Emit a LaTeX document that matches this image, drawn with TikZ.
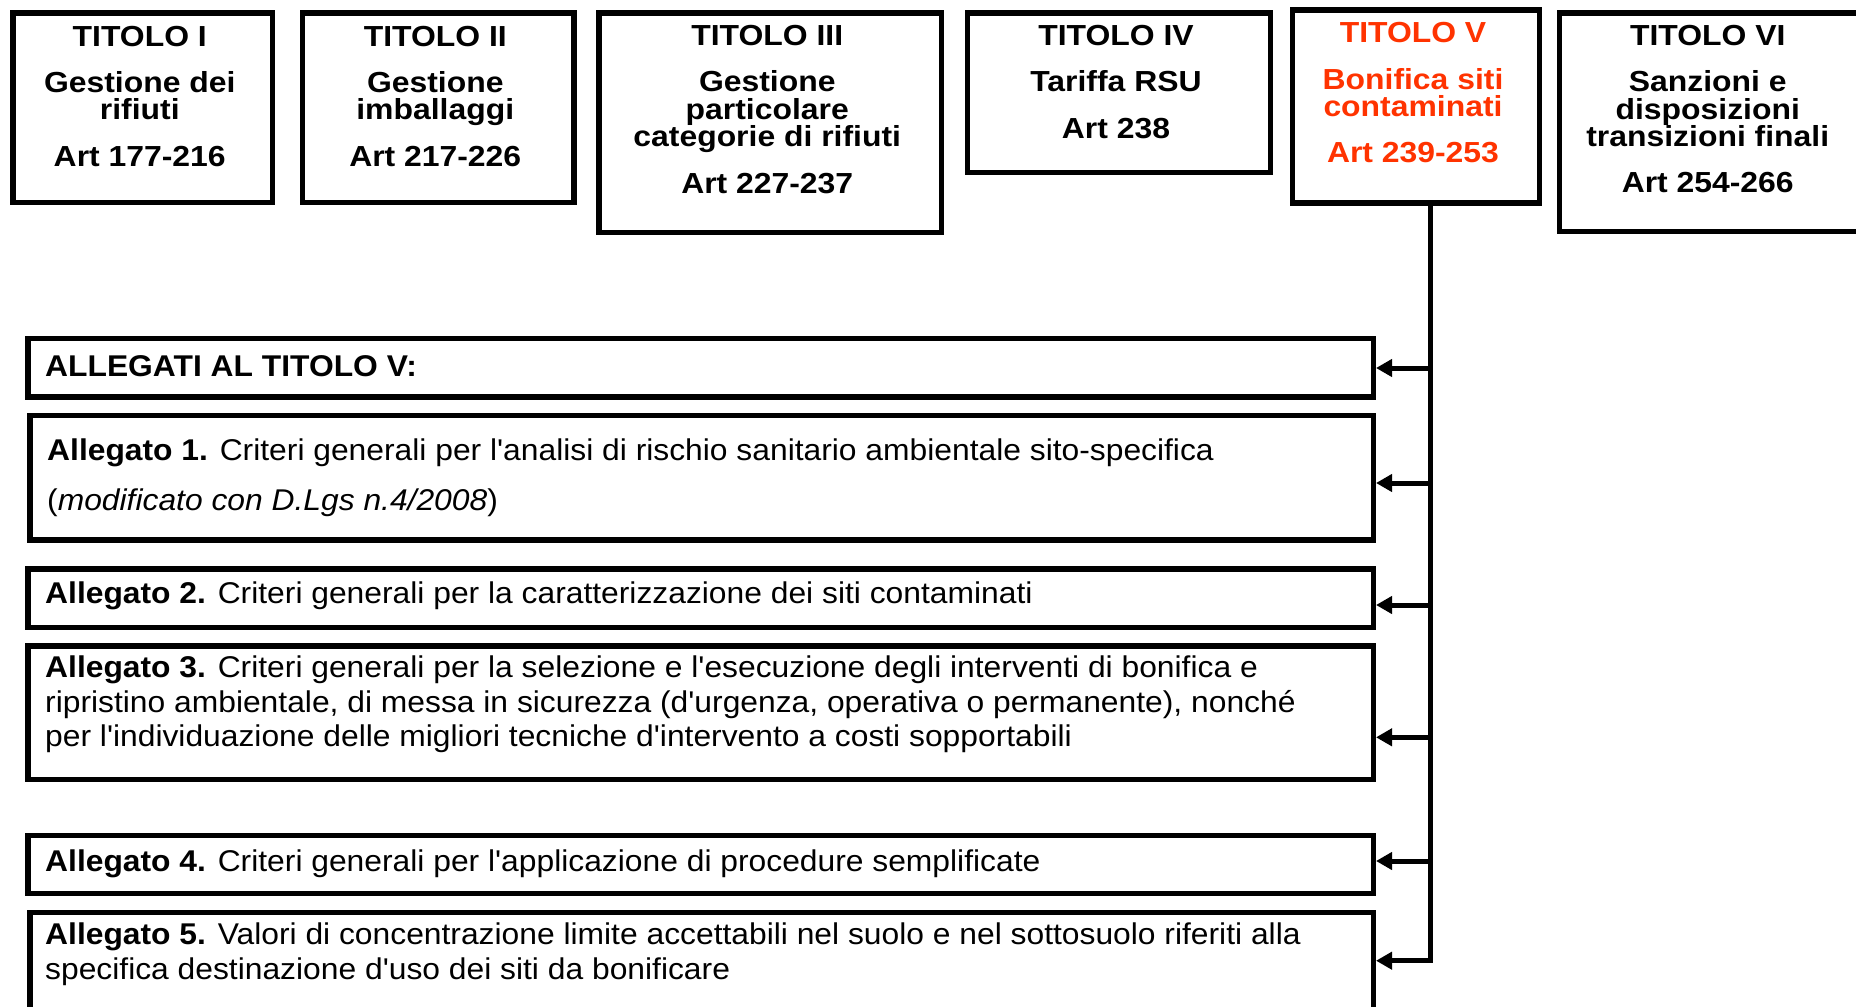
\documentclass[tikz,border=0pt]{standalone}
\usepackage{fontspec}
\setmainfont{Liberation Sans}[Ligatures=TeXOff, FakeStretch=1.06]
\newfontfamily\titlefont{Liberation Sans}[Ligatures=TeXOff, FakeStretch=1.1]
\usetikzlibrary{arrows.meta}
\definecolor{titlered}{RGB}{255,51,0}
\begin{document}
\begin{tikzpicture}[x=1pt,y=-1pt,
  tbox/.style={draw, line width=5.5pt, rectangle, inner sep=0pt, anchor=north west},
  ttext/.style={align=center, anchor=base, inner sep=0pt, font=\titlefont\fontsize{29}{27.5}\selectfont\bfseries},
  atext/.style={align=left, anchor=base west, inner sep=0pt, font=\fontsize{30}{34.7}\selectfont},
  conn/.style={line width=5pt},
  arr/.style={conn, -{Triangle[length=16pt,width=17pt]}}]
\useasboundingbox (0,0) rectangle (1856,1007);
\clip (0,0) rectangle (1856,1007);

% title boxes
\node[tbox, minimum width=259.5pt, minimum height=189.5pt] (t1) at (10,10) {};
\node[tbox, minimum width=271.5pt, minimum height=189.5pt] (t2) at (299.5,10) {};
\node[tbox, minimum width=342.5pt, minimum height=219.5pt] (t3) at (596,10) {};
\node[tbox, minimum width=303pt, minimum height=159.5pt] (t4) at (964.5,10) {};
\node[tbox, minimum width=247pt, minimum height=193pt] (t5) at (1289.5,7) {};
\node[tbox, minimum width=302.5pt, minimum height=218.5pt] (t6) at (1556.5,10) {};

% (anchor base = baseline of the last line)
\node[ttext] (t1txt) at (139.75,166.7) {TITOLO I\\[18.5pt]Gestione dei\\rifiuti\\[19.5pt]Art 177-216};
\node[ttext] (t2txt) at (435.25,166.7) {TITOLO II\\[18.5pt]Gestione\\imballaggi\\[19.5pt]Art 217-226};
\node[ttext] (t3txt) at (767.25,193.3) {TITOLO III\\[18.5pt]Gestione\\particolare\\categorie di rifiuti\\[19pt]Art 227-237};
\node[ttext] (t4txt) at (1116,138.3) {TITOLO IV\\[18.5pt]Tariffa RSU\\[19pt]Art 238};
\node[ttext, text=titlered] (t5txt) at (1413,162.3) {TITOLO V\\[19pt]Bonifica siti\\contaminati\\[18pt]Art 239-253};
\node[ttext] (t6txt) at (1707.75,192.7) {TITOLO VI\\[18.5pt]Sanzioni e\\disposizioni\\transizioni finali\\[18.5pt]Art 254-266};

% allegati boxes
\node[tbox, minimum width=1345.5pt, minimum height=58.5pt] (a0) at (25,335.5) {};
\node[tbox, minimum width=1343.5pt, minimum height=124.5pt] (a1) at (27,412.5) {};
\node[tbox, minimum width=1345.5pt, minimum height=58.5pt] (a2) at (25,566) {};
\node[tbox, minimum width=1345.5pt, minimum height=133.5pt] (a3) at (25,643) {};
\node[tbox, minimum width=1345.5pt, minimum height=58pt] (a4) at (25,832.5) {};
\node[tbox, minimum width=1343.5pt, minimum height=120pt] (a5) at (27,909.5) {};

\node[atext] (a0txt) at (45,376) {\textbf{ALLEGATI AL TITOLO V:}};
\node[atext] (a1txt) at (47,510) {\textbf{Allegato 1.} Criteri generali per l'analisi di rischio sanitario ambientale sito-specifica\\[15.3pt](\textit{modificato con D.Lgs n.4/2008})};
\node[atext] (a2txt) at (45,603.3) {\textbf{Allegato 2.} Criteri generali per la caratterizzazione dei siti contaminati};
\node[atext] (a3txt) at (45,746.7) {\textbf{Allegato 3.} Criteri generali per la selezione e l'esecuzione degli interventi di bonifica e\\ripristino ambientale, di messa in sicurezza (d'urgenza, operativa o permanente), nonché\\per l'individuazione delle migliori tecniche d'intervento a costi sopportabili};
\node[atext] (a4txt) at (45,871) {\textbf{Allegato 4.} Criteri generali per l'applicazione di procedure semplificate};
\node[atext] (a5txt) at (45,979) {\textbf{Allegato 5.} Valori di concentrazione limite accettabili nel suolo e nel sottosuolo riferiti alla\\specifica destinazione d'uso dei siti da bonificare};

% connectors
\coordinate (s0) at (1430.5,368);
\coordinate (s1) at (1430.5,483);
\coordinate (s2) at (1430.5,605);
\coordinate (s3) at (1430.5,737.3);
\coordinate (s4) at (1430.5,861);
\coordinate (s5) at (1430.5,960.7);

\draw[arr] (t5.south -| s5) -- (s5) -- (s5 -| a5.east);
\draw[arr] (s0) -- (s0 -| a0.east);
\draw[arr] (s1) -- (s1 -| a1.east);
\draw[arr] (s2) -- (s2 -| a2.east);
\draw[arr] (s3) -- (s3 -| a3.east);
\draw[arr] (s4) -- (s4 -| a4.east);
\end{tikzpicture}
\end{document}
